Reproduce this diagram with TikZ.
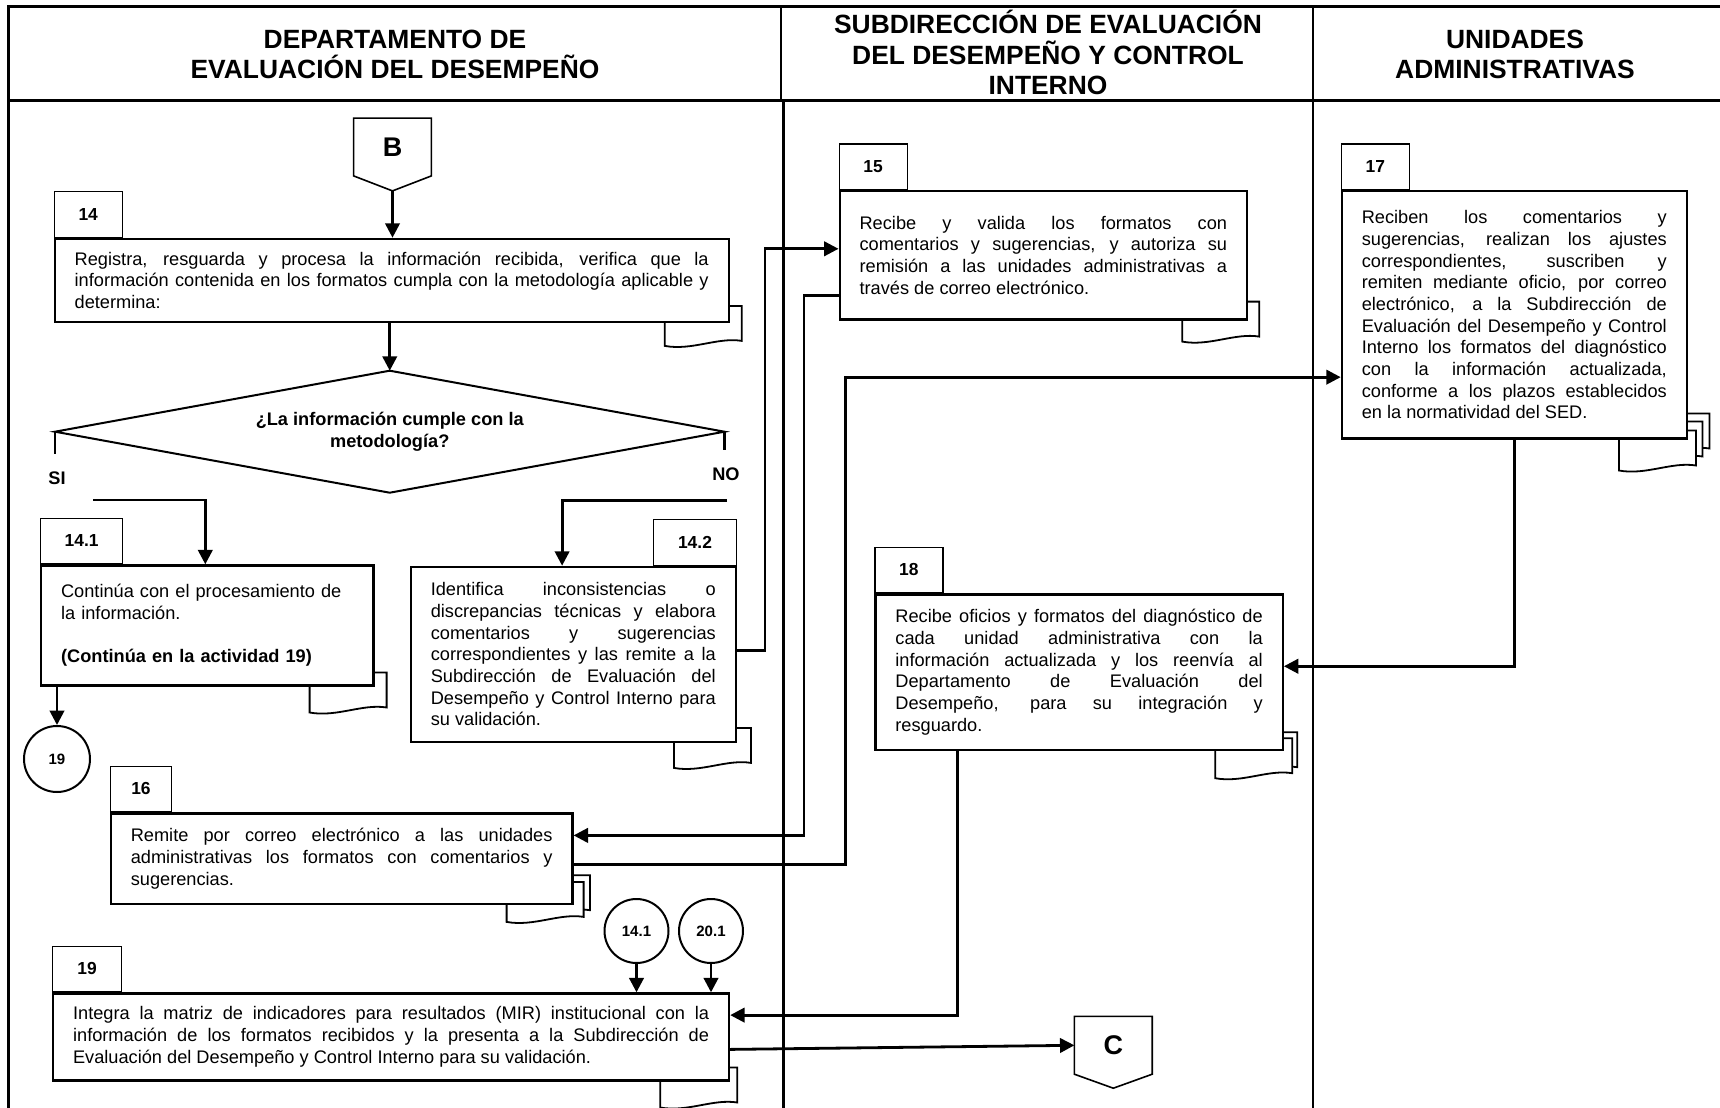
\documentclass[tikz,border=0pt]{standalone}
\usepackage{fontspec}
\setmainfont{Liberation Sans}
\usetikzlibrary{arrows.meta,calc,backgrounds}
\hyphenpenalty=10000
\exhyphenpenalty=10000
\newcommand\myBody{\fontsize{9.1}{10.85}\selectfont}
\newcommand\onedoc[3]{\path[docline, shift={($(#1.south east)+(#2,#3)$)}] (-65,-17) -- (12,-17) -- (12,18) .. controls (-12,14) and (-38,28) .. (-65,23) -- cycle;}
\tikzset{
 frame/.style={line width=1.5pt},
 lane/.style={line width=1.2pt},
 box/.style={draw, line width=1.1pt, fill=white, rectangle, inner xsep=10pt, inner ysep=0pt, anchor=north west, align=justify, font=\myBody},
 tab/.style={draw, line width=0.6pt, fill=white, minimum width=34pt, minimum height=22.75pt, inner sep=0pt, font=\bfseries\fontsize{8.7}{10}\selectfont},
 conn/.style={line width=1.4pt},
 arr/.style={conn, -{Triangle[length=7.2pt,width=7.2pt]}},
 docline/.style={draw, fill=white, line width=0.9pt},
 circ/.style={draw, circle, line width=1pt, minimum size=32pt, inner sep=0pt, font=\bfseries\fontsize{7.5}{9}\selectfont},
 pent/.style={line width=0.8pt},
 offpage/.style={minimum width=38.5pt, minimum height=28.5pt, inner sep=0pt, font=\bfseries\fontsize{13.5}{15}\selectfont},
 head/.style={align=center, font=\bfseries\fontsize{13.2}{15.25}\selectfont},
 lbl/.style={font=\bfseries\myBody, inner sep=0pt},
}
\begin{document}
\begin{tikzpicture}[x=0.5pt,y=-0.5pt]
\useasboundingbox (0,0) rectangle (1720,1108);
% frame
\draw[frame] (1720,6.7) -- (8,6.7) -- (8,1108);
\draw[frame] (8,100) -- (1720,100);
\draw[lane] (781,6.7) -- (781,100);
\draw[lane] (783.5,100) -- (783.5,1108);
\draw[lane] (1313,6.7) -- (1313,1108);
% headers
\node[head] (hDept) at (395,54.2) {DEPARTAMENTO DE\\EVALUACIÓN DEL DESEMPEÑO};
\node[head] (hSub) at (1048,52.7) {SUBDIRECCIÓN DE EVALUACIÓN\\DEL DESEMPEÑO Y CONTROL\\INTERNO};
\node[head] (hUni) at (1515,54.2) {UNIDADES\\ADMINISTRATIVAS};

% off-page connector B
\node[offpage] (offB) at (392.5,147) {B};
\draw[pent] (offB.north west) -- (offB.north east) -- (offB.south east) -- ($(offB.south)+(0,15)$) -- (offB.south west) -- cycle;

% box 14
\node[box, text width=317pt, minimum height=41.5pt] (b14) at (53.6,237.7) {Registra, resguarda y procesa la información recibida, verifica que la\linebreak información contenida en los formatos cumpla con la metodología aplicable y\linebreak determina:};
\node[tab, anchor=south west] (t14) at (b14.north west) {14};

% decision
\node[lbl, align=center, font=\bfseries\fontsize{9.1}{11}\selectfont] (dec) at (389.75,431.7) {¿La información cumple con la\\metodología?};
\coordinate (decT) at ($(dec)+(0,-61)$);
\coordinate (decB) at ($(dec)+(0,61)$);
\coordinate (decL) at ($(dec)+(-334.75,0)$);
\coordinate (decR) at ($(dec)+(334.75,0)$);
\draw[line width=1pt] (decL) -- (decT) -- (decR) -- (decB) -- cycle;
\node[lbl, anchor=west] (si) at (48,478) {SI};
\node[lbl, anchor=east] (no) at (740,474) {NO};
\coordinate (siS) at (93.4,500);
\coordinate (noS) at (727,500.7);

% box 14.1
\node[box, align=left, text width=146.2pt, minimum height=60pt] (b141) at (40,564.3) {Continúa con el procesamiento de\\la información.\\[10.85pt]\textbf{(Continúa en la actividad 19)}};
\node[tab, anchor=south west, minimum width=41pt] (t141) at (b141.north west) {14.1};
\node[circ, minimum size=33pt] (c19) at (57,759) {19};

% box 14.2
\node[box, text width=142.5pt, minimum height=87.5pt] (b142) at (409.7,565.7) {Identifica inconsistencias o\linebreak discrepancias técnicas y elabora\linebreak comentarios y sugerencias\linebreak correspondientes y las remite a la\linebreak Subdirección de Evaluación del\linebreak Desempeño y Control Interno para\linebreak su validación.};
\node[tab, anchor=south east, minimum width=41.3pt] (t142) at (b142.north east) {14.2};

% box 15
\node[box, text width=183.75pt, minimum height=64.2pt] (b15) at (838.5,190) {Recibe y valida los formatos con\linebreak comentarios y sugerencias, y autoriza su\linebreak remisión a las unidades administrativas a\linebreak través de correo electrónico.};
\node[tab, anchor=south west] (t15) at (b15.north west) {15};

% box 16
\node[box, text width=210.85pt, minimum height=45.2pt] (b16) at (109.7,812.3) {Remite por correo electrónico a las unidades\linebreak administrativas los formatos con comentarios y\linebreak sugerencias.};
\node[tab, anchor=south west, minimum width=30.7pt] (t16) at (b16.north west) {16};

% box 17
\node[box, text width=152.5pt, minimum height=123.65pt] (b17) at (1340.7,190) {Reciben los comentarios y\linebreak sugerencias, realizan los ajustes\linebreak correspondientes, suscriben y\linebreak remiten mediante oficio, por correo\linebreak electrónico, a la Subdirección de\linebreak Evaluación del Desempeño y Control\linebreak Interno los formatos del diagnóstico\linebreak con la información actualizada,\linebreak conforme a los plazos establecidos\linebreak en la normatividad del SED.};
\node[tab, anchor=south west] (t17) at (b17.north west) {17};

% box 18
\node[box, text width=183.7pt, minimum height=77.85pt] (b18) at (874.3,593.3) {Recibe oficios y formatos del diagnóstico de\linebreak cada unidad administrativa con la\linebreak información actualizada y los reenvía al\linebreak Departamento de Evaluación del\linebreak Desempeño, para su integración y\linebreak resguardo.};
\node[tab, anchor=south west] (t18) at (b18.north west) {18};

% box 19
\node[box, text width=318pt, minimum height=43.5pt] (b19) at (52,992.3) {Integra la matriz de indicadores para resultados (MIR) institucional con la\linebreak información de los formatos recibidos y la presenta a la Subdirección de\linebreak Evaluación del Desempeño y Control Interno para su validación.};
\node[tab, anchor=south west, minimum width=34.5pt] (t19) at (b19.north west) {19};
\node[circ] (c141) at (636.5,931) {14.1};
\node[circ] (c201) at (711,931) {20.1};

% off-page connector C
\node[offpage] (offC) at (1113.3,1045.3) {C};
\draw[pent] (offC.north west) -- (offC.north east) -- (offC.south east) -- ($(offC.south)+(0,14)$) -- (offC.south west) -- cycle;

% connectors
\draw[arr] ($(offB.south)+(0,15)$) -- (offB.south |- b14.north);
\draw[arr] (b14.south -| decT) -- (decT);
\draw[conn] (decL) -- ++(0,22);
\draw[conn] (decR) -- ++(0,18);
\draw[arr] (siS) -| ([xshift=-1pt]b141.north);
\draw[arr] (noS) -| ([xshift=-5.6pt]b142.north);
\draw[arr] (b141.south -| c19) -- (c19.north);
\draw[arr] ([yshift=2pt]b142.east) -- ++(28,0) |- ([yshift=3.25pt]b15.west);
\draw[arr] ([yshift=-20pt]b15.west) -- ++(-34.5,0) |- ([yshift=11.6pt]b16.east);
\draw[arr] ([yshift=-2.9pt]b16.east) -- ++(272.2,0) |- ([yshift=-31.2pt]b17.west);
\draw[arr] (b17.south) |- ([yshift=3pt]b18.east);
\draw[arr] ([xshift=-60.65pt]b18.south) |- ([yshift=10.9pt]b19.east);
\draw[arr] (c141.south) -- (c141 |- b19.north);
\draw[arr] (c201.south) -- (c201 |- b19.north);
\draw[arr] ([yshift=-6.25pt]b19.east) -- (offC.west);

% documents behind boxes
\begin{pgfonlayer}{background}
\onedoc{b14}{0}{0}
\onedoc{b15}{-1}{-2}
\onedoc{b141}{0}{3}
\onedoc{b142}{2}{2}
\onedoc{b19}{-5}{3}
\onedoc{b16}{4.4}{-12.7}
\onedoc{b16}{-2}{-6}
\onedoc{b17}{9.5}{-9}
\onedoc{b17}{2.5}{-1}
\onedoc{b17}{-4}{8}
\onedoc{b18}{1.3}{-2}
\onedoc{b18}{-3.7}{4}
\end{pgfonlayer}
\end{tikzpicture}
\end{document}
